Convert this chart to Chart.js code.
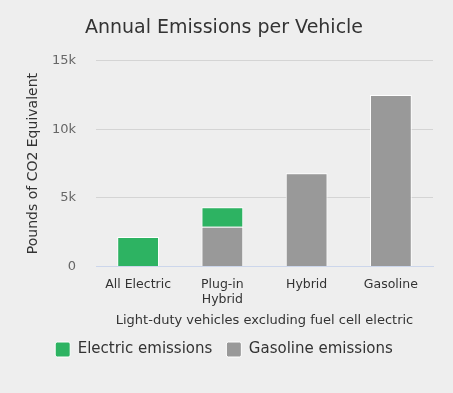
<!DOCTYPE html>
<html>
<head>
<meta charset="utf-8">
<script src="https://cdn.jsdelivr.net/npm/chart.js@4.4.1/dist/chart.umd.min.js"></script>
<style>
  html, body { margin: 0; padding: 0; background: #eeeeee; }
  #wrap { width: 453px; height: 393px; }
</style>
</head>
<body>
<div id="wrap"><canvas id="emissions"></canvas></div>
<script>
// values (pounds of CO2 equivalent per year)
const vehicleTypes = ['All Electric', ['Plug-in', 'Hybrid'], 'Hybrid', 'Gasoline'];
const electricEmissions = [2150, 1430, null, null];
const gasolineEmissions = [null, 2890, 6800, 12500];
const yTicks = [0, 5000, 10000, 15000];

const FONT = 'DejaVu Sans';

const ctx = document.getElementById('emissions').getContext('2d');
var chartData = {
    type: 'bar',
    data: {
        labels: vehicleTypes,
        datasets: [{
            label: 'Gasoline emissions',
            data: gasolineEmissions,
            backgroundColor: '#999999',
            borderColor: '#ffffff',
            borderWidth: 1,
            barPercentage: 0.62,
            categoryPercentage: 0.8
        }, {
            label: 'Electric emissions',
            data: electricEmissions,
            backgroundColor: '#2db362',
            borderColor: '#ffffff',
            borderWidth: 1,
            barPercentage: 0.62,
            categoryPercentage: 0.8
        }]
    },
    options: {
        responsive: true,
        maintainAspectRatio: false,
        animation: false,
        layout: { padding: { left: 15, right: 20, top: 13, bottom: 26 } },
        plugins: {
            title: {
                display: true,
                text: 'Annual Emissions per Vehicle',
                color: '#333333',
                font: { family: FONT, size: 19, weight: 'normal' },
                padding: { top: 4, bottom: 21 }
            },
            legend: {
                position: 'bottom',
                reverse: true,
                labels: {
                    color: '#333333',
                    font: { family: FONT, size: 15 },
                    boxWidth: 15,
                    boxHeight: 15,
                    useBorderRadius: true,
                    borderRadius: 2,
                    padding: 14
                }
            },
            tooltip: { enabled: false }
        },
        scales: {
            x: {
                stacked: true,
                grid: { display: false },
                border: { color: '#ccd6eb' },
                ticks: {
                    color: '#333333',
                    font: { family: FONT, size: 12.5 },
                    maxRotation: 0
                },
                title: {
                    display: true,
                    text: 'Light-duty vehicles excluding fuel cell electric',
                    color: '#333333',
                    font: { family: FONT, size: 13 },
                    padding: { top: 2, bottom: 0 }
                }
            },
            y: {
                stacked: true,
                min: 0,
                max: 15000,
                afterBuildTicks: function (axis) {
                    axis.ticks = yTicks.map(v => ({ value: v }));
                },
                afterFit: function (axis) {
                    axis.width = 81;
                },
                grid: { color: '#d4d4d4', drawTicks: false },
                border: { display: false },
                ticks: {
                    color: '#666666',
                    font: { family: FONT, size: 13 },
                    padding: 20,
                    callback: v => v === 0 ? '0' : (v / 1000) + 'k'
                },
                title: {
                    display: true,
                    text: 'Pounds of CO2 Equivalent',
                    color: '#333333',
                    font: { family: FONT, size: 14 },
                    padding: { top: 10, bottom: 0 }
                }
            }
        }
    }
};

const emissionsChart = new Chart(ctx, chartData);
</script>
</body>
</html>
